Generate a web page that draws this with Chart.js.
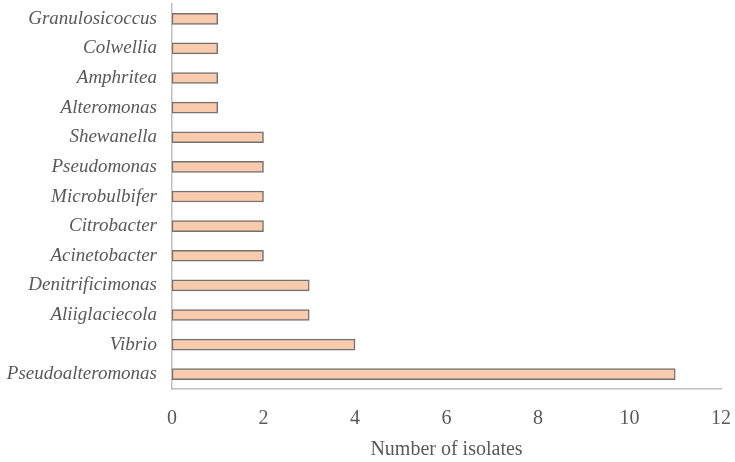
<!DOCTYPE html>
<html>
<head>
<meta charset="utf-8">
<script src="https://cdn.jsdelivr.net/npm/chart.js@4/dist/chart.umd.min.js"></script>
<style>
  html, body { margin: 0; padding: 0; background: #fff; overflow: hidden; }
  canvas { display: block; }
</style>
</head>
<body>
<canvas id="chart" width="735" height="462"></canvas>
<script>
"use strict";
var genera = [
  "Granulosicoccus", "Colwellia", "Amphritea", "Alteromonas", "Shewanella",
  "Pseudomonas", "Microbulbifer", "Citrobacter", "Acinetobacter",
  "Denitrificimonas", "Aliiglaciecola", "Vibrio", "Pseudoalteromonas"
];
var isolates = [1, 1, 1, 1, 2, 2, 2, 2, 2, 3, 3, 4, 11];
var xTicks = [0, 2, 4, 6, 8, 10, 12];
var axisTitle = "Number of isolates";

var textColor = "#595959";
var axisColor = "#bfbfbf";
var serif = "'Liberation Serif', 'DejaVu Serif', serif";

new Chart(document.getElementById("chart"), {
  type: "bar",
  data: {
    labels: genera,
    datasets: [{
      data: isolates,
      backgroundColor: "#f8cbad",
      borderColor: "#767171",
      borderWidth: 1.5,
      borderSkipped: false,
      barThickness: 11
    }]
  },
  options: {
    indexAxis: "y",
    responsive: false,
    animation: false,
    layout: { padding: { top: 4, right: 14, left: 0, bottom: 0 } },
    plugins: { legend: { display: false }, tooltip: { enabled: false } },
    scales: {
      x: {
        min: 0,
        max: 12,
        afterBuildTicks: function (scale) {
          scale.ticks = xTicks.map(function (v) { return { value: v }; });
        },
        afterFit: function (scale) {
          scale.height = 73;
          scale.paddingLeft = 0;
          scale.paddingRight = 0;
        },
        grid: { display: false },
        border: { display: true, color: axisColor, width: 1.5 },
        ticks: { color: textColor, padding: 10, font: { family: serif, size: 20 } },
        title: {
          display: true,
          text: axisTitle,
          color: textColor,
          padding: { top: 6, bottom: 0 },
          font: { family: serif, size: 20 }
        }
      },
      y: {
        afterFit: function (scale) {
          scale.width = 172;
          scale.paddingTop = 0;
          scale.paddingBottom = 0;
        },
        grid: { display: false },
        border: { display: true, color: axisColor, width: 1.5 },
        ticks: { color: textColor, padding: 7, font: { family: serif, size: 19, style: "italic" } }
      }
    }
  }
});
</script>
</body>
</html>
